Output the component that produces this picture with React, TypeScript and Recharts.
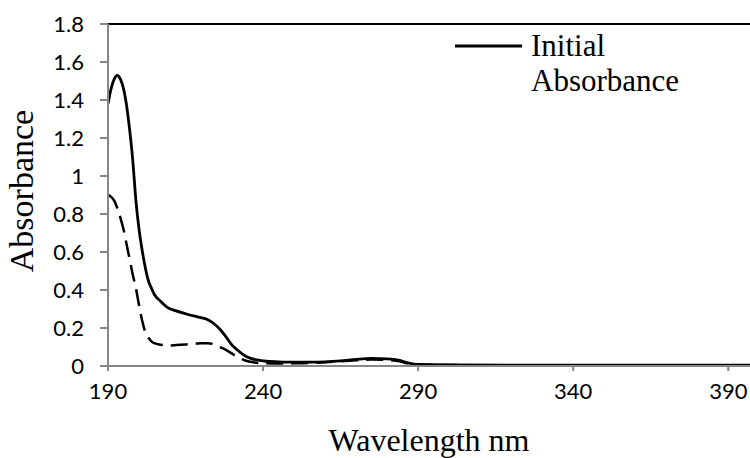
import { Label, Legend, Line, LineChart, ReferenceLine, XAxis, YAxis } from 'recharts'

const wavelengths = [
    190, 191, 192, 193, 194, 195, 196, 197, 198, 199, 200, 201, 202, 203, 204, 205, 207, 209, 212, 215,
    218, 220, 222, 224, 226, 228, 230, 232, 234, 236, 238, 241, 245, 250, 255, 260, 265, 270, 275, 280,
    284, 287, 290, 300, 320, 340, 360, 380, 397,
]
const initialAbs = [
    1.38, 1.46, 1.51, 1.53, 1.51, 1.46, 1.37, 1.24, 1.08, 0.87, 0.72, 0.61, 0.52, 0.45, 0.41, 0.375, 0.34, 0.31, 0.29, 0.275,
    0.262, 0.255, 0.245, 0.225, 0.195, 0.155, 0.11, 0.08, 0.055, 0.04, 0.032, 0.025, 0.022, 0.02, 0.02, 0.022, 0.027, 0.035, 0.04, 0.038,
    0.03, 0.015, 0.008, 0.006, 0.005, 0.005, 0.004, 0.004, 0.004,
]
const finalAbs = [
    0.9, 0.89, 0.87, 0.83, 0.78, 0.72, 0.64, 0.56, 0.48, 0.41, 0.32, 0.24, 0.18, 0.15, 0.13, 0.12, 0.112, 0.108, 0.11, 0.113,
    0.117, 0.12, 0.12, 0.115, 0.1, 0.085, 0.065, 0.045, 0.03, 0.022, 0.017, 0.014, 0.013, 0.014, 0.016, 0.02, 0.025, 0.03, 0.034, 0.032,
    0.025, 0.012, 0.006, 0.005, 0.004, 0.004, 0.004, 0.004, 0.004,
]
const xTicks = [190, 240, 290, 340, 390]
const yTicks = [0, 0.2, 0.4, 0.6, 0.8, 1, 1.2, 1.4, 1.6, 1.8]

const data = wavelengths.map((wl, i) => ({ wl, initial: initialAbs[i], final: finalAbs[i] }))

const axisGrey = '#868686'
const tickStyle = { fontFamily: 'Lato', fontSize: 22, fill: '#000' }

const LegendBox = () => (
    <div style={{ display: 'flex', alignItems: 'flex-start', fontFamily: '"Liberation Serif", serif', fontSize: 31, lineHeight: '35px' }}>
        <svg width={76} height={20} style={{ marginTop: 8 }}>
            <line x1={0} y1={10} x2={67} y2={10} stroke="#000" strokeWidth={3} />
        </svg>
        <div>Initial<br />Absorbance</div>
    </div>
)

const App = () => {
    return (
        <div style={{ position: 'absolute', left: 0, top: 0 }}>
            <LineChart width={750} height={458} data={data} margin={{ top: 24, right: 0, left: 0, bottom: 0 }}>
                <XAxis
                    dataKey="wl"
                    type="number"
                    domain={[190, 397]}
                    ticks={xTicks}
                    allowDataOverflow
                    height={92}
                    stroke={axisGrey}
                    strokeWidth={2}
                    tickSize={5}
                    tickMargin={12}
                    tick={tickStyle}
                >
                    <Label
                        content={() => (
                            <text x={429} y={451} textAnchor="middle" fontFamily='"Liberation Serif", serif' fontSize={32} fill="#000">
                                Wavelength nm
                            </text>
                        )}
                    />
                </XAxis>
                <YAxis
                    domain={[0, 1.8]}
                    ticks={yTicks}
                    width={108}
                    stroke={axisGrey}
                    strokeWidth={2}
                    tickSize={8}
                    tickMargin={16}
                    tick={tickStyle}
                >
                    <Label
                        content={() => (
                            <text
                                x={33}
                                y={191}
                                transform="rotate(-90 33 191)"
                                textAnchor="middle"
                                fontFamily='"Liberation Serif", serif'
                                fontSize={34}
                                fill="#000"
                            >
                                Absorbance
                            </text>
                        )}
                    />
                </YAxis>
                <ReferenceLine y={1.8} stroke="#000" strokeWidth={2} />
                <Legend
                    layout="vertical"
                    align="center"
                    verticalAlign="middle"
                    wrapperStyle={{ top: 28, left: 455, width: 290 }}
                    content={() => <LegendBox />}
                />
                <Line
                    dataKey="initial"
                    type="monotone"
                    stroke="#000"
                    strokeWidth={2.8}
                    dot={false}
                    isAnimationActive={false}
                />
                <Line
                    dataKey="final"
                    type="monotone"
                    stroke="#000"
                    strokeWidth={2.5}
                    strokeDasharray="17 8"
                    dot={false}
                    legendType="none"
                    isAnimationActive={false}
                />
            </LineChart>
        </div>
    )
}

export default App
